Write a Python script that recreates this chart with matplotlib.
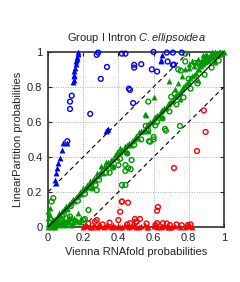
import numpy as np
import matplotlib
matplotlib.use("Agg")
import matplotlib.pyplot as plt
from matplotlib.ticker import FixedLocator, FixedFormatter

# ===========================
# Data
# ===========================
TICKS = [0, 0.2, 0.4, 0.6, 0.8, 1]
TICK_LABELS = ["0", "0.2", "0.4", "0.6", "0.8", "1"]

# blue: LinearPartition much higher than Vienna
blue_tri_x = [0.17, 0.17, 0.165, 0.165, 0.16, 0.16, 0.155, 0.15, 0.15, 0.145, 0.145, 0.14,
              0.335, 0.33, 0.34, 0.645, 0.65, 0.64,
              0.085, 0.106, 0.078, 0.068, 0.057, 0.05, 0.045, 0.04, 0.045]
blue_tri_y = [1.0, 0.99, 0.97, 0.96, 0.95, 0.93, 0.91, 0.89, 0.87, 0.86, 0.84, 0.83,
              0.556, 0.55, 0.56, 0.95, 0.98, 0.955,
              0.48, 0.48, 0.44, 0.394, 0.366, 0.337, 0.31, 0.27, 0.25]
blue_circ_x = [0.125, 0.125, 0.135, 0.24, 0.277, 0.285, 0.30, 0.335, 0.42, 0.44, 0.46,
               0.60, 0.675, 0.71, 0.76, 0.49, 0.49, 0.53, 0.59, 0.62, 0.68, 0.71,
               0.466, 0.484, 0.716, 0.11]
blue_circ_y = [0.674, 0.716, 0.75, 0.646, 0.983, 0.996, 0.846, 0.914, 0.99, 0.99, 0.79,
               1.0, 0.996, 0.996, 0.996, 0.926, 0.91, 0.93, 0.90, 0.888, 0.945, 0.926,
               0.783, 0.708, 0.927, 0.49]

# green: both tools agree within 0.2
green_tri_x = [0.0, 0.01, 0.02, 0.03, 0.05, 0.06, 0.08, 0.1, 0.12, 0.14, 0.16, 0.18, 0.2,
               0.22, 0.24, 0.26, 0.28, 0.3, 0.32, 0.34, 0.36, 0.38, 0.40, 0.42, 0.44,
               0.46, 0.48, 0.5, 0.52, 0.54, 0.56, 0.58, 0.6, 0.62, 0.64, 0.66, 0.68,
               0.7, 0.72, 0.74, 0.76, 0.78, 0.8, 0.82, 0.84, 0.86, 0.88, 0.9, 0.92,
               0.94, 0.96, 0.98, 1.0, 0.99, 0.97, 0.95, 0.93, 0.9, 0.88, 0.85, 0.82,
               0.8, 0.83, 0.87, 0.91, 0.86, 0.89, 0.92, 0.95,
               0.11, 0.25, 0.37, 0.45, 0.57, 0.65, 0.75, 0.85, 0.95,
               0.02, 0.04, 0.06, 0.08, 0.1, 0.12, 0.14, 0.16, 0.18, 0.03, 0.07,
               0.11, 0.15, 0.19, 0.0, 0.0, 0.01, 0.0, 0.01, 0.05, 0.09, 0.13,
               0.69, 0.60, 0.55, 0.555, 0.3, 0.33, 0.39, 0.41,
               0.01, 0.03, 0.05, 0.07, 0.09, 0.11, 0.13, 0.15, 0.17, 0.19, 0.21,
               0.23, 0.25, 0.27, 0.29, 0.31, 0.33, 0.35, 0.37, 0.39, 0.41, 0.43,
               0.45, 0.47, 0.49, 0.51, 0.53, 0.55, 0.57, 0.59, 0.61, 0.63, 0.65,
               0.67, 0.69, 0.71, 0.73, 0.75, 0.77, 0.79, 0.81, 0.83, 0.85, 0.87,
               0.89, 0.91, 0.93, 0.95, 0.97,
               0.78, 0.8, 0.84, 0.88, 0.9, 0.93, 0.96, 0.98, 0.76, 0.74, 0.72,
               0.02, 0.05, 0.08, 0.12, 0.17, 0.04, 0.09, 0.13, 0.2, 0.24, 0.28]
green_tri_y = [0.0, 0.02, 0.03, 0.04, 0.05, 0.08, 0.09, 0.12, 0.13, 0.16, 0.17, 0.2, 0.21,
               0.24, 0.25, 0.28, 0.29, 0.32, 0.34, 0.37, 0.38, 0.41, 0.42, 0.44, 0.46,
               0.48, 0.49, 0.52, 0.54, 0.55, 0.58, 0.6, 0.62, 0.64, 0.66, 0.68, 0.7,
               0.72, 0.75, 0.76, 0.79, 0.81, 0.83, 0.86, 0.88, 0.9, 0.93, 0.95, 0.96,
               0.97, 0.98, 0.99, 1.0, 1.0, 1.0, 0.99, 0.99, 0.98, 0.98, 0.96, 0.95,
               0.93, 0.92, 0.95, 0.97, 0.93, 0.96, 0.98, 1.0,
               0.1, 0.23, 0.35, 0.43, 0.55, 0.63, 0.73, 0.84, 0.94,
               0.0, 0.01, 0.01, 0.02, 0.02, 0.03, 0.03, 0.04, 0.03, 0.02, 0.03,
               0.04, 0.05, 0.05, 0.02, 0.05, 0.07, 0.09, 0.11, 0.02, 0.04, 0.05,
               0.836, 0.743, 0.646, 0.64, 0.35, 0.37, 0.43, 0.45,
               0.01, 0.035, 0.06, 0.07, 0.1, 0.11, 0.14, 0.15, 0.18, 0.19, 0.22,
               0.23, 0.26, 0.27, 0.3, 0.31, 0.35, 0.36, 0.39, 0.4, 0.43, 0.44,
               0.47, 0.47, 0.5, 0.51, 0.55, 0.56, 0.59, 0.6, 0.63, 0.64, 0.67,
               0.68, 0.71, 0.72, 0.75, 0.77, 0.8, 0.82, 0.85, 0.87, 0.9, 0.92,
               0.94, 0.95, 0.97, 0.98, 0.99,
               0.9, 0.91, 0.94, 0.96, 0.99, 1.0, 0.99, 1.0, 0.86, 0.82, 0.79,
               0.04, 0.03, 0.04, 0.06, 0.08, 0.0, 0.01, 0.01, 0.22, 0.26, 0.31]
green_circ_x = [0.05, 0.09, 0.13, 0.17, 0.21, 0.25, 0.29, 0.33, 0.37, 0.41, 0.45, 0.49,
                0.53, 0.57, 0.61, 0.65, 0.69, 0.73, 0.77, 0.81, 0.85, 0.89, 0.93, 0.97,
                0.78, 0.78, 0.74, 0.755, 0.80, 0.835, 0.72, 0.70, 0.57, 0.75, 0.665,
                0.60, 0.67, 0.555, 0.574, 0.60, 0.47, 0.44, 0.03, 0.02, 0.277, 0.23,
                0.125, 0.21, 0.14, 0.44, 0.455, 0.44, 0.40, 0.475, 0.42, 0.58,
                0.06, 0.1, 0.16, 0.2, 0.08, 0.04, 0.62, 0.35, 0.27]
green_circ_y = [0.04, 0.07, 0.12, 0.15, 0.19, 0.22, 0.27, 0.31, 0.34, 0.39, 0.42, 0.47,
                0.5, 0.55, 0.58, 0.62, 0.66, 0.7, 0.74, 0.79, 0.82, 0.87, 0.91, 0.95,
                0.99, 0.945, 0.90, 0.893, 0.846, 0.937, 0.76, 0.743, 0.716, 0.577, 0.56,
                0.514, 0.55, 0.577, 0.49, 0.50, 0.33, 0.32, 0.165, 0.145, 0.21, 0.097,
                0.06, 0.046, 0.022, 0.354, 0.337, 0.24, 0.354, 0.383, 0.24, 0.487,
                0.03, 0.02, 0.03, 0.04, 0.06, 0.01, 0.6, 0.31, 0.24]

# red: Vienna much higher than LinearPartition
red_tri_x = [0.2, 0.22, 0.24, 0.26, 0.28, 0.3, 0.32, 0.34, 0.36, 0.38, 0.4, 0.42, 0.44,
             0.46, 0.48, 0.5, 0.52, 0.55, 0.57, 0.6, 0.62, 0.64, 0.66, 0.68, 0.7,
             0.72, 0.75, 0.78, 0.8, 0.82,
             0.21, 0.25, 0.29, 0.33, 0.37, 0.41, 0.45, 0.49, 0.53, 0.56, 0.61, 0.65,
             0.69, 0.79, 0.81]
red_tri_y = [0.0, 0.005, 0.0, 0.01, 0.0, 0.005, 0.0, 0.01, 0.0, 0.0, 0.005, 0.0, 0.01,
             0.0, 0.005, 0.0, 0.0, 0.01, 0.0, 0.005, 0.0, 0.0, 0.005, 0.0, 0.0,
             0.005, 0.0, 0.0, 0.005, 0.0,
             0.01, 0.0, 0.015, 0.005, 0.01, 0.0, 0.005, 0.01, 0.005, 0.0, 0.01, 0.005,
             0.0, 0.01, 0.005]
red_circ_x = [0.886, 0.896, 0.847, 0.716, 0.455, 0.625, 0.62, 0.42, 0.494, 0.523,
              0.504, 0.466, 0.62, 0.653, 0.693, 0.795, 0.42, 0.41, 0.277, 0.267,
              0.40, 0.50, 0.61, 0.675, 0.23, 0.31, 0.35, 0.45, 0.56, 0.73, 0.76, 0.81]
red_circ_y = [0.666, 0.543, 0.434, 0.337, 0.139, 0.114, 0.093, 0.145, 0.046, 0.046,
              0.03, 0.022, 0.022, 0.022, 0.011, 0.011, 0.145, 0.087, 0.04, 0.03,
              0.04, 0.03, 0.011, 0.02, 0.02, 0.015, 0.025, 0.015, 0.02, 0.015, 0.01, 0.015]

BLUE = "#0000ff"
GREEN = "#009a00"
RED = "#ff0000"

# ===========================
# Plot
# ===========================
plt.rcParams["font.family"] = ["Liberation Sans", "DejaVu Sans"]
plt.rcParams["mathtext.fontset"] = "custom"
plt.rcParams["mathtext.it"] = "Liberation Sans:italic"
plt.rcParams["mathtext.rm"] = "Liberation Sans"
fig = plt.figure(figsize=(2.4, 2.82), dpi=100)
ax = fig.add_axes([0.2, 0.195, 0.733, 0.621])

# reference lines
ax.plot([0, 1], [0, 1], color="black", lw=0.8, zorder=4)
ax.plot([0, 0.8], [0.2, 1], color="black", lw=0.8, ls=(0, (4, 3)), zorder=1)
ax.plot([0.2, 1], [0, 0.8], color="black", lw=0.8, ls=(0, (4, 3)), zorder=1)

circ = dict(marker="o", s=12, facecolors="none", linewidths=1.0, zorder=3, clip_on=False)
tri = dict(marker="^", s=18, linewidths=0, zorder=3, clip_on=False)
ax.scatter(green_circ_x, green_circ_y, edgecolors=GREEN, **circ)
ax.scatter(green_tri_x, green_tri_y, color=GREEN, **tri)
ax.scatter(blue_circ_x, blue_circ_y, edgecolors=BLUE, **circ)
ax.scatter(blue_tri_x, blue_tri_y, color=BLUE, **tri)
ax.scatter(red_circ_x, red_circ_y, edgecolors=RED, **circ)
ax.scatter(red_tri_x, red_tri_y, color=RED, **tri)

ax.set_xlim(0, 1)
ax.set_ylim(0, 1)
for axis in (ax.xaxis, ax.yaxis):
    axis.set_major_locator(FixedLocator(TICKS))
    axis.set_major_formatter(FixedFormatter(TICK_LABELS))
ax.tick_params(direction="in", top=True, right=True, length=3, width=0.8,
               labelsize=8, pad=4, colors="#222222")
ax.grid(True, color="#aaaaaa", ls=(0, (1, 1.5)), lw=0.7)
ax.set_axisbelow(True)
for sp in ax.spines.values():
    sp.set_linewidth(1.2)
    sp.set_color("#333333")

ax.set_xlabel("Vienna RNAfold probabilities", fontsize=8, labelpad=3, color="#222222")
ax.set_ylabel("LinearPartition probabilities", fontsize=8, labelpad=3, color="#222222")
ax.set_title(r"Group I Intron $\it{C.ellipsoidea}$", fontsize=8, pad=8, color="#222222")

fig.savefig("out.png", dpi=100)
